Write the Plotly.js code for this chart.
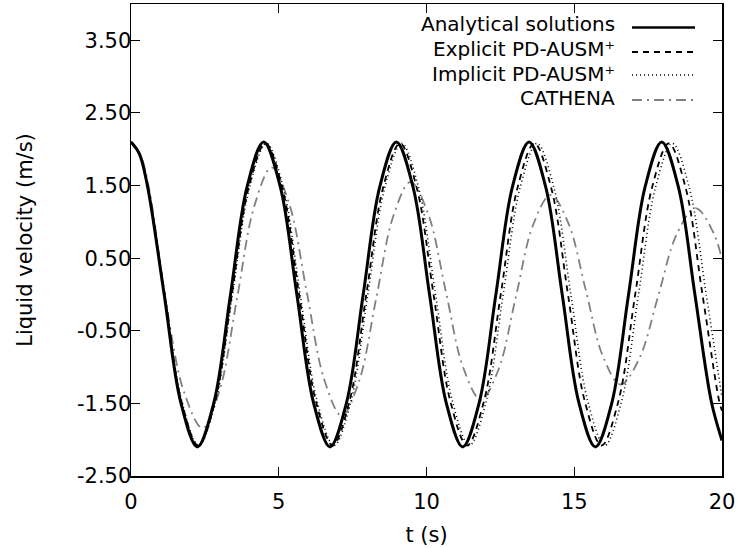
<!DOCTYPE html>
<html>
<head>
<meta charset="utf-8">
<script src="https://cdn.plot.ly/plotly-3.0.1.min.js"></script>
<style>html,body{margin:0;padding:0;background:#fff;}#chart{width:740px;height:548px;}</style>
</head>
<body>
<div id="chart"></div>
<script>
// ---- data ----
const seriesNames = ['Analytical solutions', 'Explicit PD-AUSM\u207A', 'Implicit PD-AUSM\u207A', 'CATHENA'];

const tAnalytical = [0,0.281,0.561,1.123,1.684,2.245,2.806,3.368,3.929,4.49,5.051,5.613,6.174,6.735,7.296,7.858,8.419,8.98,9.541,10.103,10.664,11.225,11.786,12.348,12.909,13.47,14.031,14.593,15.154,15.715,16.276,16.838,17.399,17.96,18.521,19.083,19.644,20];
const vAnalytical = [2.1,1.94,1.485,0,-1.485,-2.1,-1.485,0,1.485,2.1,1.485,0,-1.485,-2.1,-1.485,0,1.485,2.1,1.485,0,-1.485,-2.1,-1.485,0,1.485,2.1,1.485,0,-1.485,-2.1,-1.485,0,1.485,2.1,1.485,0,-1.485,-2.01];

const tExplicit = [0,0.284,0.569,1.138,1.706,2.275,2.844,3.413,3.981,4.55,5.119,5.688,6.256,6.825,7.394,7.963,8.531,9.1,9.669,10.238,10.806,11.375,11.944,12.513,13.081,13.65,14.219,14.788,15.356,15.925,16.494,17.063,17.631,18.2,18.769,19.338,19.906,20];
const vExplicit = [2.1,1.93,1.47,0,-1.47,-2.08,-1.47,0,1.47,2.08,1.47,0,-1.47,-2.08,-1.47,0,1.47,2.08,1.47,0,-1.47,-2.08,-1.47,0,1.47,2.08,1.47,0,-1.47,-2.08,-1.47,0,1.47,2.08,1.47,0,-1.47,-1.6];

const tImplicit = [0,0.286,0.573,1.145,1.718,2.29,2.863,3.435,4.008,4.58,5.153,5.725,6.298,6.87,7.443,8.015,8.588,9.16,9.733,10.305,10.878,11.45,12.023,12.595,13.168,13.74,14.313,14.885,15.458,16.03,16.603,17.175,17.748,18.32,18.893,19.465,20];
const vImplicit = [2.1,1.93,1.47,0,-1.47,-2.08,-1.47,0,1.47,2.08,1.47,0,-1.47,-2.08,-1.47,0,1.47,2.08,1.47,0,-1.47,-2.08,-1.47,0,1.47,2.08,1.47,0,-1.47,-2.08,-1.47,0,1.47,2.08,1.47,0,-1.42];

const tCathena = [0,0.3,0.6,1.2,1.8,2.42,3.005,3.59,4.175,4.76,5.353,5.945,6.538,7.13,7.713,8.295,8.878,9.46,10.055,10.65,11.245,11.84,12.43,13.02,13.61,14.2,14.793,15.385,15.978,16.57,17.203,17.835,18.468,19.1,19.7,20];
const vCathena = [2.1,1.94,1.48,-0.15,-1.35,-1.84,-1.31,-0.05,1.22,1.75,1.25,0.04,-1.17,-1.67,-1.2,-0.06,1.08,1.55,1.11,0.05,-1.01,-1.45,-1.04,-0.04,0.96,1.37,0.99,0.07,-0.86,-1.24,-0.88,-0.03,0.83,1.19,0.86,0.48];

const yTickVals = [-2.5,-1.5,-0.5,0.5,1.5,2.5,3.5];
const xTickVals = [0,5,10,15,20];

// ---- styles ----
const FONT = 'DejaVu Sans, sans-serif';
const FS = 21;
const LEG_FS = 20;
const GRAY = '#808080';
const styles = [
  {color:'#000', width:3, dash:'solid'},
  {color:'#000', width:1.8, dash:'6px,5px'},
  {color:'#000', width:1.6, dash:'1px,3px'},
  {color:GRAY,  width:1.8, dash:'10px,5px,2px,5px'}
];

const xs = [tAnalytical, tExplicit, tImplicit, tCathena];
const ys = [vAnalytical, vExplicit, vImplicit, vCathena];
const order = [3,2,1,0];
const traces = order.map(i => ({
  x: xs[i], y: ys[i], type:'scatter', mode:'lines', name: seriesNames[i],
  line: {color: styles[i].color, width: styles[i].width, dash: styles[i].dash, shape:'spline', smoothing:1},
  showlegend:false, hoverinfo:'skip'
}));

// legend (gnuplot style: text right-aligned, sample to the right)
const legY = [0.9502, 0.8983, 0.8496, 0.7966];
const legTextY = [0.9576, 0.9047, 0.8517, 0.8008];
const annotations = seriesNames.map((n,i) => ({
  xref:'paper', yref:'paper', x:0.8206, y:legTextY[i], xanchor:'right', yanchor:'middle',
  text:n, showarrow:false, borderpad:0, font:{family:FONT, size:LEG_FS, color:'#000'}
}));
const shapes = seriesNames.map((n,i) => ({
  type:'line', xref:'paper', yref:'paper', x0:0.8477, x1:0.9543, y0:legY[i], y1:legY[i],
  line:{color:styles[i].color, width:(i===0?2.6:styles[i].width), dash:styles[i].dash}
}));

const layout = {
  width:740, height:548,
  margin:{l:131, r:18, t:4, b:72, pad:0},
  paper_bgcolor:'#fff', plot_bgcolor:'#fff',
  font:{family:FONT, size:FS, color:'#000'},
  showlegend:false,
  xaxis:{
    range:[0,20], tickvals:xTickVals, ticktext:xTickVals.map(String),
    ticks:'inside', ticklen:9, tickwidth:1, tickcolor:'#000',
    showline:true, linecolor:'#000', linewidth:1.5, mirror:'ticks',
    showgrid:false, zeroline:false, ticklabelstandoff:6,
    tickfont:{family:FONT, size:FS, color:'#000'},
    title:{text:'t (s)', font:{family:FONT, size:FS, color:'#000'}, standoff:14}
  },
  yaxis:{
    range:[-2.5,4.0], tickvals:yTickVals, ticktext:yTickVals.map(v => v.toFixed(2)),
    ticks:'inside', ticklen:9, tickwidth:1, tickcolor:'#000',
    showline:true, linecolor:'#000', linewidth:1.5, mirror:'ticks',
    showgrid:false, zeroline:false, ticklabelstandoff:-6,
    tickfont:{family:FONT, size:FS, color:'#000'},
    title:{text:'Liquid velocity (m/s)', font:{family:FONT, size:FS, color:'#000'}, standoff:38}
  },
  annotations: annotations,
  shapes: shapes
};

Plotly.newPlot('chart', traces, layout, {displayModeBar:false, staticPlot:true});
</script>
</body>
</html>
